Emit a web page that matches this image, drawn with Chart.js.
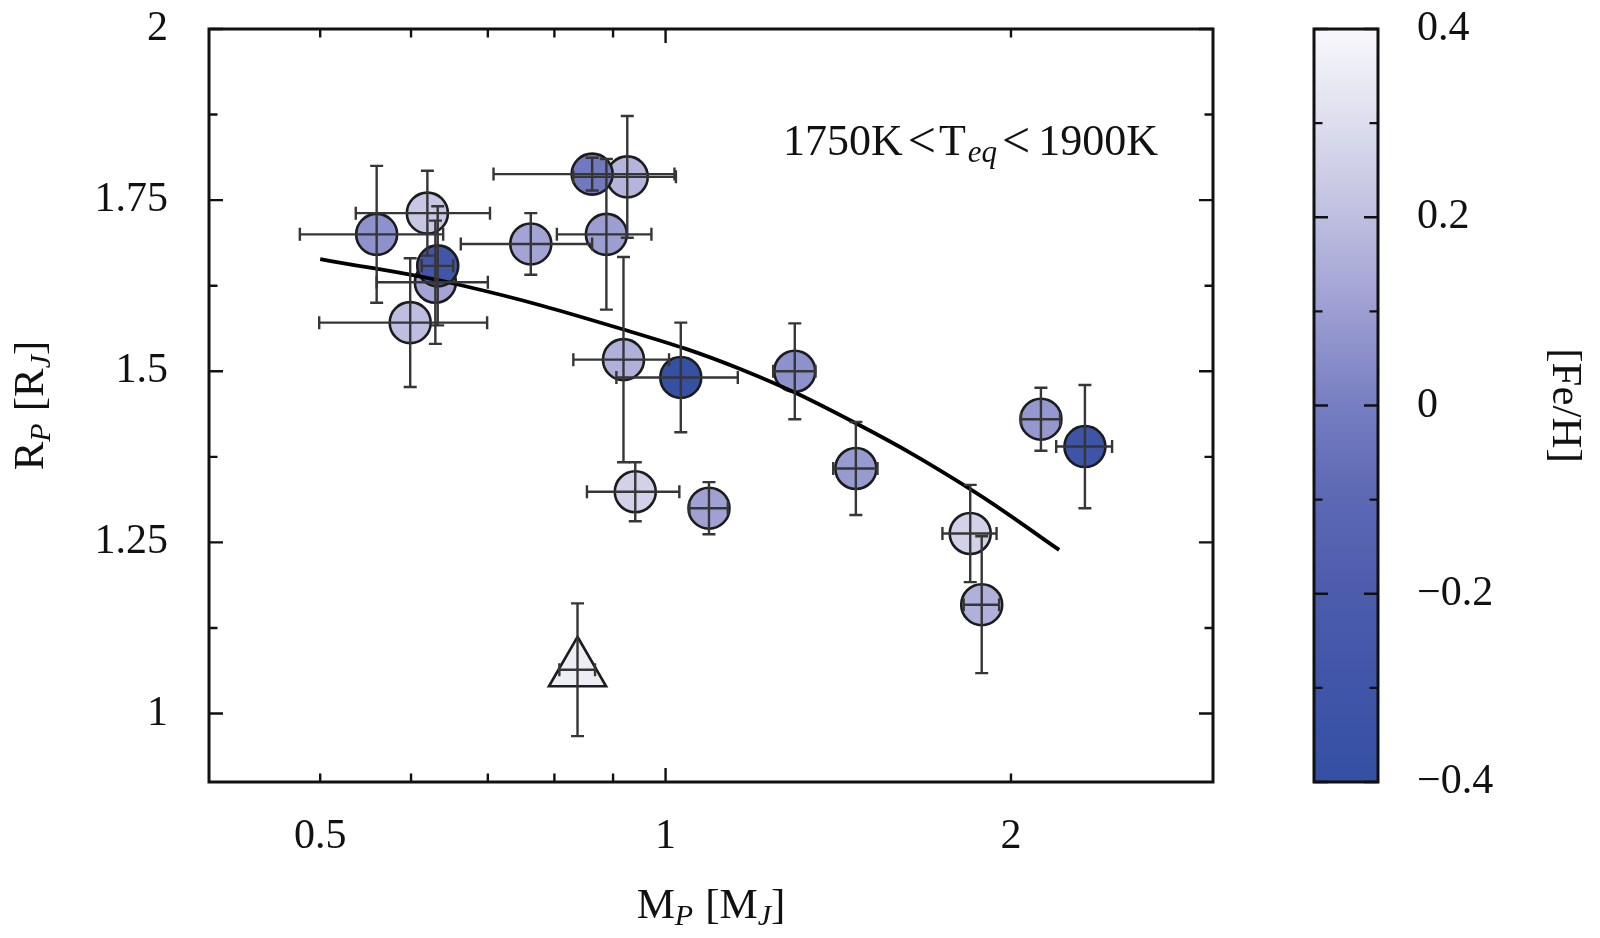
<!DOCTYPE html>
<html>
<head>
<meta charset="utf-8">
<script src="https://cdn.jsdelivr.net/npm/chart.js@4.4.1/dist/chart.umd.min.js"></script>
<style>
html,body{margin:0;padding:0;background:#ffffff;}
#wrap{width:1600px;height:938px;}
</style>
</head>
<body>
<div id="wrap"><canvas id="c" width="1600" height="938"></canvas></div>
<script>
// ---------------- DATA ----------------
const massMJ    = [0.599, 0.560, 0.620, 0.630, 0.633, 0.763, 0.888, 0.926, 0.863, 0.919, 1.031, 0.941, 1.091, 1.296, 1.465, 1.843, 1.886, 2.124, 2.320, 0.838];
const massErr   = [0.100, 0.080, 0.083, 0.070, 0.020, 0.100, 0.084, 0.095, 0.155, 0.088, 0.125, 0.087, 0.042, 0.055, 0.065, 0.100, 0.067, 0.083, 0.130, 0.030];
const radiusRJ  = [1.571, 1.700, 1.731, 1.630, 1.654, 1.686, 1.700, 1.784, 1.788, 1.517, 1.491, 1.324, 1.300, 1.500, 1.358, 1.263, 1.159, 1.430, 1.390, 1.064];
const radiusErr = [0.094, 0.100, 0.062, 0.090, 0.087, 0.045, 0.110, 0.089, 0.024, 0.150, 0.080, 0.043, 0.038, 0.070, 0.068, 0.071, 0.100, 0.046, 0.090, 0.097];
const fehDex    = [0.20, 0.06, 0.23, 0.12, -0.28, 0.12, 0.10, 0.17, -0.02, 0.16, -0.38, 0.26, 0.11, 0.06, 0.09, 0.26, 0.16, 0.08, -0.32, 0.36];
const markerKind = ['circle','circle','circle','circle','circle','circle','circle','circle','circle','circle','circle','circle','circle','circle','circle','circle','circle','circle','circle','triangle'];

const modelMass   = [0.500, 0.662, 0.919, 1.163, 1.465, 1.843, 2.203];
const modelRadius = [1.664, 1.626, 1.561, 1.503, 1.424, 1.328, 1.239];

const xTickLabels   = [0.5, 1, 2];
const xMajorMarks   = [1];
const xMinorMarks   = [0.5, 0.6, 0.7, 0.8, 0.9, 2];
const yTickLabels   = [1, 1.25, 1.5, 1.75, 2];
const yMinorMarks   = [1.125, 1.375, 1.625, 1.875];
const cbarTickLabels = [-0.4, -0.2, 0, 0.2, 0.4];
const cbarMinorMarks = [-0.3, -0.1, 0.1, 0.3];
const cbarRange = [-0.4, 0.4];

const panelText = ['1750K', '<', 'T', 'eq', '<', '1900K'];

// ---------------- STYLE ----------------
const SERIF = '"Liberation Serif", "DejaVu Serif", serif';
const INK = '#111111';
const ERR_COLOR = '#363636';
const CMAP = [
  [-0.4, [52, 80, 163]],
  [-0.3, [64, 85, 168]],
  [-0.2, [76, 92, 173]],
  [-0.1, [92, 104, 180]],
  [ 0.0, [118, 126, 194]],
  [ 0.1, [156, 158, 210]],
  [ 0.2, [190, 190, 224]],
  [ 0.3, [221, 221, 238]],
  [ 0.4, [248, 248, 252]]
];
function cmap(v){
  if (v <= CMAP[0][0]) return 'rgb(' + CMAP[0][1].join(',') + ')';
  for (let i = 1; i < CMAP.length; i++){
    if (v <= CMAP[i][0]){
      const a = CMAP[i-1], b = CMAP[i];
      const t = (v - a[0]) / (b[0] - a[0]);
      const c = a[1].map((q, k) => Math.round(q + (b[1][k] - q) * t));
      return 'rgb(' + c.join(',') + ')';
    }
  }
  return 'rgb(' + CMAP[CMAP.length-1][1].join(',') + ')';
}

function drawRich(ctx, parts, x, y, align, size){
  const subSize = Math.round(size * 0.70);
  const fontOf = p => (p.sub ? 'italic ' + subSize : (p.size || size)) + 'px ' + SERIF;
  const widths = parts.map(p => {
    ctx.font = fontOf(p);
    return ctx.measureText(p.t).width + (p.gap || 0);
  });
  const total = widths.reduce((s, w) => s + w, 0);
  let cx = align === 'center' ? x - total / 2 : x;
  parts.forEach((p, i) => {
    ctx.font = fontOf(p);
    ctx.fillText(p.t, cx, y + (p.sub ? size * 0.17 : 0) + (p.dy || 0));
    cx += widths[i];
  });
}

const decor = {
  id: 'decor',
  afterDatasetsDraw(chart){
    const {ctx, scales: {x, y}} = chart;
    const CAP = 6.5;
    ctx.save();
    ctx.strokeStyle = ERR_COLOR;
    ctx.lineWidth = 2.4;
    for (let i = 0; i < massMJ.length; i++){
      const cx = x.getPixelForValue(massMJ[i]);
      const cy = y.getPixelForValue(radiusRJ[i]);
      const x0 = x.getPixelForValue(massMJ[i] - massErr[i]);
      const x1 = x.getPixelForValue(massMJ[i] + massErr[i]);
      const y0 = y.getPixelForValue(radiusRJ[i] - radiusErr[i]);
      const y1 = y.getPixelForValue(radiusRJ[i] + radiusErr[i]);
      ctx.beginPath();
      ctx.moveTo(x0, cy); ctx.lineTo(x1, cy);
      ctx.moveTo(cx, y0); ctx.lineTo(cx, y1);
      ctx.moveTo(x0, cy - CAP); ctx.lineTo(x0, cy + CAP);
      ctx.moveTo(x1, cy - CAP); ctx.lineTo(x1, cy + CAP);
      ctx.moveTo(cx - CAP, y0); ctx.lineTo(cx + CAP, y0);
      ctx.moveTo(cx - CAP, y1); ctx.lineTo(cx + CAP, y1);
      ctx.stroke();
    }
    ctx.restore();
  },
  afterDraw(chart){
    const {ctx, chartArea: a, scales: {x, y}} = chart;
    ctx.save();
    // frame
    ctx.strokeStyle = INK;
    ctx.lineWidth = 3;
    ctx.strokeRect(a.left, a.top, a.right - a.left, a.bottom - a.top);
    // inward ticks
    ctx.lineWidth = 2.4;
    const MAJ = 14, MIN = 8.5;
    ctx.beginPath();
    const xt = (v, L) => { const p = x.getPixelForValue(v);
      ctx.moveTo(p, a.bottom); ctx.lineTo(p, a.bottom - L);
      ctx.moveTo(p, a.top); ctx.lineTo(p, a.top + L); };
    const yt = (v, L) => { const p = y.getPixelForValue(v);
      ctx.moveTo(a.left, p); ctx.lineTo(a.left + L, p);
      ctx.moveTo(a.right, p); ctx.lineTo(a.right - L, p); };
    xMajorMarks.forEach(v => xt(v, MAJ));
    xMinorMarks.forEach(v => xt(v, MIN));
    yTickLabels.forEach(v => yt(v, MAJ));
    yMinorMarks.forEach(v => yt(v, MIN));
    ctx.stroke();

    // colorbar
    const cbL = 1314, cbR = 1378, cbT = a.top, cbB = a.bottom;
    const cpx = v => cbB - (v - cbarRange[0]) / (cbarRange[1] - cbarRange[0]) * (cbB - cbT);
    const g = ctx.createLinearGradient(0, cbB, 0, cbT);
    CMAP.forEach(s => g.addColorStop((s[0] - cbarRange[0]) / (cbarRange[1] - cbarRange[0]), 'rgb(' + s[1].join(',') + ')'));
    ctx.fillStyle = g;
    ctx.fillRect(cbL, cbT, cbR - cbL, cbB - cbT);
    ctx.lineWidth = 3;
    ctx.strokeRect(cbL, cbT, cbR - cbL, cbB - cbT);
    ctx.lineWidth = 2.4;
    ctx.beginPath();
    const ct = (v, L) => { const p = cpx(v);
      ctx.moveTo(cbL, p); ctx.lineTo(cbL + L, p);
      ctx.moveTo(cbR, p); ctx.lineTo(cbR - L, p); };
    cbarTickLabels.forEach(v => ct(v, MAJ));
    cbarMinorMarks.forEach(v => ct(v, MIN));
    ctx.stroke();

    ctx.fillStyle = INK;
    ctx.textBaseline = 'middle';
    ctx.textAlign = 'left';
    ctx.font = '42px ' + SERIF;
    cbarTickLabels.forEach(v => {
      const s = v < 0 ? '\u2212' + Math.abs(v) : String(v);
      ctx.fillText(s, 1417, cpx(v));
    });

    // texts
    ctx.textBaseline = 'alphabetic';
    // x label
    drawRich(ctx, [{t:'M'}, {t:'P', sub:true, gap:12}, {t:'[M'}, {t:'J', sub:true}, {t:']'}],
      (a.left + a.right) / 2, 918, 'center', 43);
    // y label
    ctx.save();
    ctx.translate(43, (a.top + a.bottom) / 2);
    ctx.rotate(-Math.PI / 2);
    drawRich(ctx, [{t:'R'}, {t:'P', sub:true, gap:12}, {t:'[R'}, {t:'J', sub:true}, {t:']'}], 0, 0, 'center', 43);
    ctx.restore();
    // colorbar label
    ctx.save();
    ctx.translate(1553, (a.top + a.bottom) / 2);
    ctx.rotate(Math.PI / 2);
    ctx.textAlign = 'center';
    ctx.font = '43px ' + SERIF;
    ctx.fillText('[Fe/H]', 0, 0);
    ctx.restore();
    // panel text
    ctx.textAlign = 'left';
    drawRich(ctx, [
      {t: panelText[0], gap: 5},
      {t: panelText[1], gap: 3, size: 50, dy: 2},
      {t: panelText[2], gap: 2},
      {t: panelText[3], sub: true, gap: 5},
      {t: panelText[4], gap: 8, size: 50, dy: 2},
      {t: panelText[5]}
    ], 783, 155, 'left', 44);
    ctx.restore();
  }
};

const scatterPts = massMJ.map((m, i) => ({x: m, y: radiusRJ[i]}));
const modelPts = modelMass.map((m, i) => ({x: m, y: modelRadius[i]}));

new Chart(document.getElementById('c').getContext('2d'), {
  type: 'scatter',
  data: {
    datasets: [
      {
        label: 'model',
        data: modelPts,
        showLine: true,
        borderColor: '#000000',
        borderWidth: 3.8,
        pointRadius: 0,
        tension: 0.4,
        cubicInterpolationMode: 'default',
        fill: false,
        order: 0
      },
      {
        label: 'planets',
        data: scatterPts,
        pointStyle: markerKind,
        pointRadius: markerKind.map(k => k === 'triangle' ? 33 : 20.5),
        backgroundColor: fehDex.map(cmap),
        borderColor: '#1c1c1c',
        borderWidth: 2.6,
        order: 1
      }
    ]
  },
  options: {
    responsive: false,
    animation: false,
    devicePixelRatio: 1,
    events: [],
    layout: {autoPadding: false, padding: {left: 0, top: 29, right: 387, bottom: 0}},
    plugins: {legend: {display: false}, tooltip: {enabled: false}},
    scales: {
      x: {
        type: 'logarithmic',
        min: 0.4, max: 3,
        grid: {display: false, drawTicks: false},
        border: {display: false},
        afterBuildTicks: s => { s.ticks = xTickLabels.map(v => ({value: v})); },
        afterFit: s => { s.height = 156; s.paddingLeft = 0; s.paddingRight = 0; s.paddingTop = 0; s.paddingBottom = 0; },
        ticks: {
          callback: v => String(v),
          font: {family: SERIF, size: 42},
          color: INK,
          padding: 30,
          maxRotation: 0,
          autoSkip: false
        }
      },
      y: {
        type: 'linear',
        min: 0.9, max: 2,
        grid: {display: false, drawTicks: false},
        border: {display: false},
        afterBuildTicks: s => { s.ticks = yTickLabels.map(v => ({value: v})); },
        afterFit: s => { s.width = 209; s.paddingTop = 0; s.paddingBottom = 0; s.paddingLeft = 0; s.paddingRight = 0; },
        ticks: {
          callback: v => String(v),
          font: {family: SERIF, size: 42},
          color: INK,
          padding: 41,
          autoSkip: false
        }
      }
    }
  },
  plugins: [decor]
});
</script>
</body>
</html>
